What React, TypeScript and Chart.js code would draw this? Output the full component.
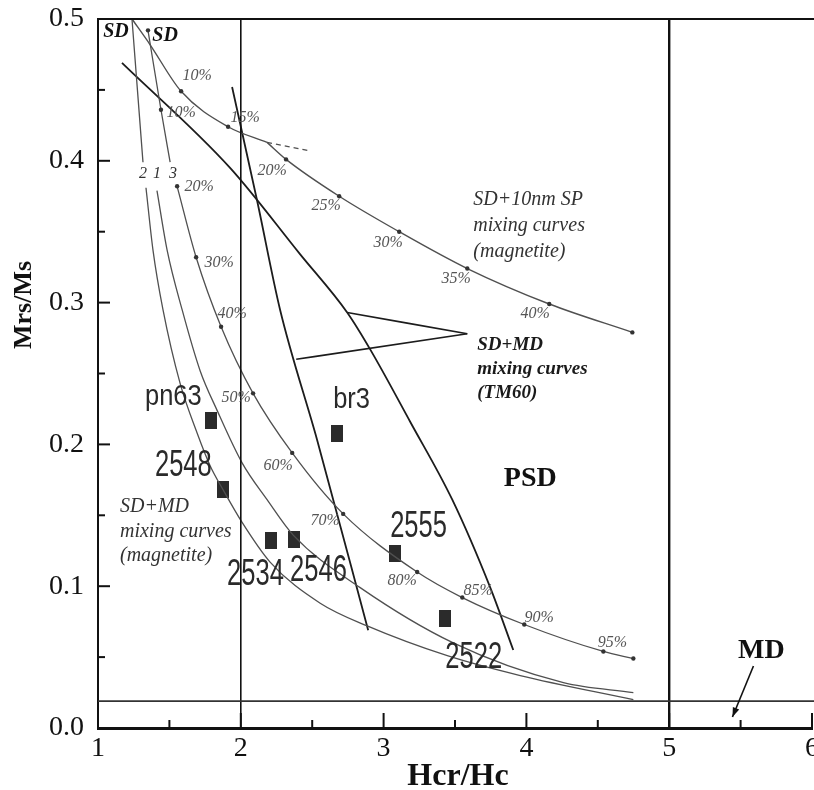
import { useEffect, useRef } from 'react';
import { Chart, registerables } from 'chart.js';

Chart.register(...registerables);

// ---------- axis ticks ----------
const xTickValues = [1, 2, 3, 4, 5, 6];
const xTickLabels = ['1', '2', '3', '4', '5', '6'];
const yTickValues = [0, 0.1, 0.2, 0.3, 0.4, 0.5];
const yTickLabels = ['0.0', '0.1', '0.2', '0.3', '0.4', '0.5'];
const xMinorTicks = [1.5, 2.5, 3.5, 4.5, 5.5];
const yMinorTicks = [0.05, 0.15, 0.25, 0.35, 0.45];

// ---------- SD + 10nm SP mixing curve (magnetite) ----------
const spUpperX = [1.238, 1.364, 1.582, 1.911, 2.184];
const spUpperY = [0.5, 0.482, 0.449, 0.424, 0.413];
const spUpperMarks = [2, 3];
const spLowerX = [2.184, 2.317, 2.689, 3.109, 3.586, 4.16, 4.742];
const spLowerY = [0.413, 0.401, 0.375, 0.35, 0.324, 0.299, 0.279];
const spLowerMarks = [1, 2, 3, 4, 5, 6];
const spDashX = [2.184, 2.486];
const spDashY = [0.413, 0.407];

// ---------- SD + MD mixing curves (magnetite) 1, 2, 3 ----------
const c3UpperX = [1.35, 1.441, 1.505];
const c3UpperY = [0.492, 0.436, 0.399];
const c3UpperMarks = [0, 1];
const c3LowerX = [1.554, 1.687, 1.862, 2.086, 2.36, 2.717, 3.235, 3.551, 3.985, 4.539, 4.749];
const c3LowerY = [0.382, 0.332, 0.283, 0.236, 0.194, 0.151, 0.11, 0.092, 0.073, 0.054, 0.049];
const c3LowerMarks = [0, 1, 2, 3, 4, 5, 6, 7, 8, 9, 10];

const c2UpperX = [1.238, 1.315];
const c2UpperY = [0.5, 0.399];
const c2LowerX = [1.336, 1.385, 1.455, 1.575, 1.694, 1.785, 1.876, 2.009, 2.205, 2.556, 2.885, 3.446, 3.957, 4.749];
const c2LowerY = [0.381, 0.337, 0.295, 0.243, 0.208, 0.185, 0.168, 0.145, 0.117, 0.088, 0.072, 0.051, 0.037, 0.02];

const c1X = [1.413, 1.484, 1.589, 1.715, 1.834, 2.009, 2.184, 2.367, 2.836, 3.488, 4.259, 4.749];
const c1Y = [0.379, 0.337, 0.295, 0.252, 0.224, 0.187, 0.161, 0.136, 0.099, 0.06, 0.032, 0.025];

// ---------- SD + MD mixing curves (TM60) ----------
const tmLongX = [1.168, 1.925, 2.416, 2.745, 2.906, 3.186, 3.481, 3.747, 3.908];
const tmLongY = [0.469, 0.395, 0.334, 0.293, 0.267, 0.216, 0.161, 0.099, 0.055];
const tmSteepX = [1.939, 2.114, 2.275, 2.535, 2.892];
const tmSteepY = [0.452, 0.372, 0.295, 0.203, 0.069];
const pointerUpperX = [2.745, 3.586];
const pointerUpperY = [0.293, 0.278];
const pointerLowerX = [2.388, 3.586];
const pointerLowerY = [0.26, 0.278];

// ---------- domain boundary lines ----------
const sdLimitY = 0.5;
const mdLimitY = 0.019;
const sdPsdX = 2;
const psdMdX = 5;

// ---------- samples ----------
const sampleNames = ['pn63', '2548', 'br3', '2534', '2546', '2555', '2522'];
const sampleX = [1.792, 1.876, 2.675, 2.212, 2.373, 3.081, 3.432];
const sampleY = [0.217, 0.168, 0.208, 0.132, 0.133, 0.123, 0.077];
// label anchors (left / baseline) in data units
const sampleLabelX = [1.329, 1.399, 2.647, 1.904, 2.345, 3.046, 3.432];
const sampleLabelY = [0.228, 0.178, 0.226, 0.101, 0.104, 0.135, 0.042];

// ---------- percentage labels ----------
const spPctText = ['10%', '15%', '20%', '25%', '30%', '35%', '40%'];
const spPctX = [1.694, 2.03, 2.219, 2.598, 3.032, 3.509, 4.062];
const spPctY = [0.46, 0.43, 0.393, 0.368, 0.342, 0.317, 0.292];
const mdPctText = ['10%', '20%', '30%', '40%', '50%', '60%', '70%', '80%', '85%', '90%', '95%'];
const mdPctX = [1.582, 1.708, 1.848, 1.939, 1.967, 2.261, 2.591, 3.13, 3.663, 4.09, 4.602];
const mdPctY = [0.434, 0.382, 0.328, 0.292, 0.233, 0.185, 0.146, 0.104, 0.097, 0.078, 0.06];
const curveNumText = ['2', '1', '3'];
const curveNumX = [1.315, 1.413, 1.526];
const curveNumY = [0.391, 0.391, 0.391];

// ---------- other texts ----------
const sdText = ['SD', 'SD'];
const sdTextX = [1.126, 1.47];
const sdTextY = [0.491, 0.488];
const spBlock = ['SD+10nm SP', 'mixing curves', '(magnetite)'];
const spBlockAnchor = [3.628, 0.3688];
const tmBlock = ['SD+MD', 'mixing curves', '(TM60)'];
const tmBlockAnchor = [3.656, 0.2666];
const mgBlock = ['SD+MD', 'mixing curves', '(magnetite)'];
const mgBlockAnchor = [1.154, 0.1523];
const psdText = 'PSD';
const psdAnchor = [4.027, 0.176];
const mdText = 'MD';
const mdAnchor = [5.646, 0.0543];
const mdArrowX = [5.59, 5.443];
const mdArrowY = [0.0437, 0.0078];
const xTitle = 'Hcr/Hc';
const yTitle = 'Mrs/Ms';

const pts = (xs: number[], ys: number[]) => xs.map((x, i) => ({ x, y: ys[i] }));

export default function App() {
  const ref = useRef<HTMLCanvasElement>(null);

  useEffect(() => {
    const canvas = ref.current!;
    const sq = document.createElement('canvas');
    sq.width = 12;
    sq.height = 17;
    const sc = sq.getContext('2d')!;
    sc.fillStyle = '#2b2b2b';
    sc.fillRect(0, 0, 12, 17);

    const curve = (xs: number[], ys: number[], color: string, width: number, marks: number[] = [], dash: number[] = []) => ({
      data: pts(xs, ys),
      showLine: true,
      borderColor: color,
      borderWidth: width,
      borderDash: dash,
      cubicInterpolationMode: 'monotone',
      pointRadius: xs.map((_, i) => (marks.includes(i) ? 2.2 : 0)),
      pointBackgroundColor: '#333',
      pointBorderWidth: 0,
      clip: false,
    });

    const mix = '#505050';
    const tm = '#1c1c1c';
    const datasets: any[] = [
      curve([1, 6.02], [sdLimitY, sdLimitY], '#111', 2),
      curve([1, 6.02], [mdLimitY, mdLimitY], '#333', 1.7),
      curve([sdPsdX, sdPsdX + 1e-9], [0, 0.5], '#111', 1.6),
      curve([psdMdX, psdMdX + 1e-9], [0, 0.5], '#111', 2.4),
      curve(spUpperX, spUpperY, mix, 1.4, spUpperMarks),
      curve(spLowerX, spLowerY, mix, 1.4, spLowerMarks),
      curve(spDashX, spDashY, mix, 1.3, [], [5, 4]),
      curve(c3UpperX, c3UpperY, mix, 1.3, c3UpperMarks),
      curve(c3LowerX, c3LowerY, mix, 1.3, c3LowerMarks),
      curve(c2UpperX, c2UpperY, mix, 1.3),
      curve(c2LowerX, c2LowerY, mix, 1.3),
      curve(c1X, c1Y, mix, 1.3),
      curve(tmLongX, tmLongY, tm, 1.8),
      curve(tmSteepX, tmSteepY, tm, 1.8),
      curve(pointerUpperX, pointerUpperY, tm, 1.6),
      curve(pointerLowerX, pointerLowerY, tm, 1.6),
      {
        data: pts(sampleX, sampleY),
        showLine: false,
        pointStyle: sq,
        pointRadius: 8,
        clip: false,
      },
    ];

    const serif = '"Liberation Serif", "Times New Roman", serif';
    const sans = '"Liberation Sans", Arial, sans-serif';

    const annot = {
      id: 'annot',
      afterDatasetsDraw(chart: any) {
        const { ctx, chartArea } = chart;
        const xs = chart.scales.x;
        const ys = chart.scales.y;
        const px = (v: number) => xs.getPixelForValue(v);
        const py = (v: number) => ys.getPixelForValue(v);
        ctx.save();

        // inward tick marks
        ctx.strokeStyle = '#111';
        ctx.lineWidth = 2;
        const seg = (a: number, b: number, c: number, d: number) => {
          ctx.beginPath();
          ctx.moveTo(a, b);
          ctx.lineTo(c, d);
          ctx.stroke();
        };
        xTickValues.forEach((v) => seg(px(v), chartArea.bottom, px(v), chartArea.bottom - 15));
        xMinorTicks.forEach((v) => seg(px(v), chartArea.bottom, px(v), chartArea.bottom - 8));
        yTickValues.forEach((v) => seg(chartArea.left, py(v), chartArea.left + 12, py(v)));
        yMinorTicks.forEach((v) => seg(chartArea.left, py(v), chartArea.left + 7, py(v)));

        // x tick labels
        ctx.textAlign = 'center';
        ctx.textBaseline = 'middle';
        ctx.fillStyle = '#111';
        ctx.font = `28px ${serif}`;
        xTickLabels.forEach((t, i) => ctx.fillText(t, px(xTickValues[i]), chartArea.bottom + 21));

        // percentage labels
        ctx.font = `italic 16px ${serif}`;
        ctx.fillStyle = '#555';
        spPctText.forEach((t, i) => ctx.fillText(t, px(spPctX[i]), py(spPctY[i])));
        mdPctText.forEach((t, i) => ctx.fillText(t, px(mdPctX[i]), py(mdPctY[i])));
        ctx.fillStyle = '#333';
        curveNumText.forEach((t, i) => ctx.fillText(t, px(curveNumX[i]), py(curveNumY[i])));

        // SD labels
        ctx.font = `bold italic 20px ${serif}`;
        ctx.fillStyle = '#111';
        sdText.forEach((t, i) => ctx.fillText(t, px(sdTextX[i]), py(sdTextY[i])));

        // text blocks
        ctx.textAlign = 'left';
        ctx.textBaseline = 'alphabetic';
        const block = (lines: string[], a: number[], font: string, color: string, gap: number) => {
          ctx.font = font;
          ctx.fillStyle = color;
          lines.forEach((l, i) => ctx.fillText(l, px(a[0]), py(a[1]) + i * gap));
        };
        block(spBlock, spBlockAnchor, `italic 20px ${serif}`, '#333', 26);
        block(tmBlock, tmBlockAnchor, `bold italic 19px ${serif}`, '#1a1a1a', 24);
        block(mgBlock, mgBlockAnchor, `italic 20px ${serif}`, '#333', 24.5);

        // PSD / MD
        ctx.textAlign = 'center';
        ctx.textBaseline = 'middle';
        ctx.fillStyle = '#111';
        ctx.font = `bold 28px ${serif}`;
        ctx.fillText(psdText, px(psdAnchor[0]), py(psdAnchor[1]));
        ctx.fillText(mdText, px(mdAnchor[0]), py(mdAnchor[1]));

        // MD arrow
        const ax0 = px(mdArrowX[0]);
        const ay0 = py(mdArrowY[0]);
        const ax1 = px(mdArrowX[1]);
        const ay1 = py(mdArrowY[1]);
        ctx.lineWidth = 1.6;
        seg(ax0, ay0, ax1, ay1);
        const ang = Math.atan2(ay1 - ay0, ax1 - ax0);
        ctx.beginPath();
        ctx.moveTo(ax1, ay1);
        ctx.lineTo(ax1 - 10 * Math.cos(ang - 0.35), ay1 - 10 * Math.sin(ang - 0.35));
        ctx.lineTo(ax1 - 10 * Math.cos(ang + 0.35), ay1 - 10 * Math.sin(ang + 0.35));
        ctx.closePath();
        ctx.fill();

        // sample labels (condensed sans)
        ctx.textAlign = 'left';
        ctx.textBaseline = 'alphabetic';
        ctx.fillStyle = '#2a2a2a';
        sampleNames.forEach((t, i) => {
          const big = t.length === 4 && /^\d+$/.test(t);
          const size = big ? 37 : 30;
          const sx = big ? 0.69 : 0.85;
          ctx.save();
          ctx.translate(px(sampleLabelX[i]), py(sampleLabelY[i]));
          ctx.scale(sx, 1);
          ctx.font = `${size}px ${sans}`;
          ctx.fillText(t, 0, 0);
          ctx.restore();
        });

        // axis titles
        ctx.fillStyle = '#111';
        ctx.textAlign = 'center';
        ctx.textBaseline = 'middle';
        ctx.font = `bold 32px ${serif}`;
        ctx.fillText(xTitle, (chartArea.left + chartArea.right) / 2 + 3, chartArea.bottom + 49);
        ctx.save();
        ctx.translate(chartArea.left - 74, chartArea.top + 286);
        ctx.rotate(-Math.PI / 2);
        ctx.font = `bold 26px ${serif}`;
        ctx.fillText(yTitle, 0, 0);
        ctx.restore();

        ctx.restore();
      },
    };

    const chart = new Chart(canvas, {
      type: 'scatter',
      data: { datasets },
      options: {
        animation: false,
        responsive: false,
        devicePixelRatio: 1,
        events: [],
        layout: { autoPadding: false, padding: { top: 19, right: 2, left: 0, bottom: 0 } },
        plugins: { legend: { display: false }, tooltip: { enabled: false } },
        scales: {
          x: {
            type: 'linear',
            min: 1,
            max: 6,
            grid: { display: false, drawTicks: false },
            border: { display: true, color: '#111', width: 3 },
            ticks: { stepSize: 1, display: false },
            afterFit: (s: any) => {
              s.height = 62;
              s.paddingLeft = 0;
              s.paddingRight = 0;
            },
          },
          y: {
            type: 'linear',
            min: 0,
            max: 0.5,
            grid: { display: false, drawTicks: false },
            border: { display: true, color: '#111', width: 2 },
            ticks: {
              stepSize: 0.1,
              autoSkip: false,
              padding: 14,
              color: '#111',
              font: { family: serif, size: 28 },
              callback: (v: any) => {
                const i = yTickValues.findIndex((t) => Math.abs(t - Number(v)) < 1e-6);
                return i >= 0 ? yTickLabels[i] : '';
              },
            },
            afterFit: (s: any) => {
              s.width = 98;
              s.paddingTop = 0;
              s.paddingBottom = 0;
            },
          },
        },
      } as any,
      plugins: [annot],
    } as any);

    return () => chart.destroy();
  }, []);

  return (
    <div style={{ position: 'absolute', left: 0, top: 0, width: 814, height: 790, background: '#fff' }}>
      <canvas ref={ref} width={814} height={790} style={{ display: 'block', width: 814, height: 790 }} />
    </div>
  );
}
